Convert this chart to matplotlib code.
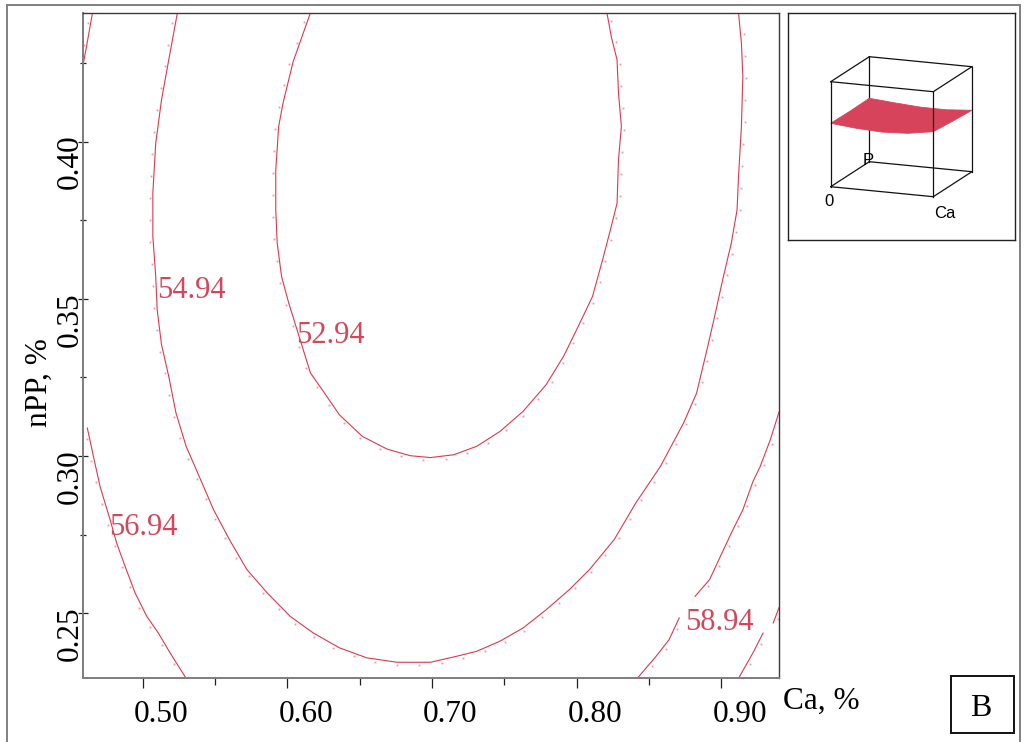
import matplotlib
matplotlib.use("Agg")
import matplotlib.pyplot as plt
import numpy as np
from matplotlib.lines import Line2D
from matplotlib.patches import Polygon, Rectangle
from matplotlib.transforms import ScaledTranslation, blended_transform_factory

# contour levels of the response surface (% units)
levels = [52.94, 54.94, 56.94, 58.94]

# traced iso-lines, Ca % vs nPP %
ca_5294 = [0.616, 0.604, 0.597, 0.594, 0.592, 0.592, 0.593, 0.596, 0.601, 0.606,
           0.611, 0.616, 0.625, 0.636, 0.652, 0.669, 0.685, 0.699, 0.715, 0.731,
           0.747, 0.763, 0.779, 0.791, 0.800, 0.811, 0.818, 0.824, 0.828, 0.829,
           0.831, 0.829, 0.828, 0.824, 0.821]
npp_5294 = [0.441, 0.4254, 0.4122, 0.4048, 0.3910, 0.3783, 0.3677, 0.3571, 0.3486, 0.3412,
            0.3338, 0.3264, 0.3205, 0.3131, 0.3062, 0.3022, 0.3001, 0.2995, 0.3004, 0.3031,
            0.3078, 0.3142, 0.3227, 0.3317, 0.3401, 0.3507, 0.3624, 0.3730, 0.3804, 0.3942,
            0.4048, 0.4154, 0.4260, 0.4334, 0.441]

ca_5494 = [0.524, 0.518, 0.513, 0.509, 0.507, 0.507, 0.509, 0.510, 0.513, 0.518,
           0.523, 0.530, 0.540, 0.549, 0.560, 0.572, 0.586, 0.602, 0.618, 0.636,
           0.655, 0.676, 0.699, 0.717, 0.731, 0.747, 0.763, 0.779, 0.795, 0.809,
           0.826, 0.841, 0.858, 0.874, 0.883, 0.891, 0.896, 0.901, 0.907, 0.911,
           0.912, 0.914, 0.915, 0.914, 0.912]
npp_5494 = [0.441, 0.426, 0.4133, 0.3995, 0.3836, 0.3698, 0.3571, 0.3465, 0.3354, 0.3253,
            0.3137, 0.3031, 0.2925, 0.2829, 0.2734, 0.2639, 0.2565, 0.2490, 0.2437, 0.2390,
            0.2358, 0.2344, 0.2344, 0.2363, 0.2379, 0.2411, 0.2453, 0.2511, 0.2575, 0.2639,
            0.2734, 0.2851, 0.2967, 0.3105, 0.3200, 0.3354, 0.3455, 0.3560, 0.3677, 0.3783,
            0.3889, 0.4048, 0.4207, 0.4313, 0.441]

ca_5694_top = [0.4653, 0.4613, 0.4581]
npp_5694_top = [0.441, 0.4307, 0.4228]
ca_5694_left = [0.4617, 0.4659, 0.4705, 0.4774, 0.4820, 0.4878, 0.4947, 0.5028,
                0.5108, 0.5189, 0.5300]
npp_5694_left = [0.3089, 0.2999, 0.2903, 0.2798, 0.2723, 0.2649, 0.2565, 0.2490,
                 0.2437, 0.2374, 0.2293]
ca_5694_right = [0.940, 0.934, 0.927, 0.922, 0.915, 0.907, 0.900, 0.892, 0.882]
npp_5694_right = [0.314, 0.3052, 0.2967, 0.2919, 0.2829, 0.2755, 0.2686, 0.2607, 0.2554]
ca_5694_low = [0.871, 0.864, 0.855, 0.842]
npp_5694_low = [0.2485, 0.2416, 0.2363, 0.2293]

ca_5894_a = [0.940, 0.936]
npp_5894_a = [0.2518, 0.2469]
ca_5894_b = [0.929, 0.922, 0.912]
npp_5894_b = [0.2437, 0.2374, 0.2293]

# where each level's value is written (left end, baseline)
label_ca = [0.606, 0.5097, 0.4769, 0.8748]
label_npp = [0.3359, 0.3502, 0.2750, 0.2448]

x_major = [0.50, 0.60, 0.70, 0.80, 0.90]
x_minor = [0.55, 0.65, 0.75, 0.85]
y_major = [0.25, 0.30, 0.35, 0.40]
y_minor = [0.275, 0.325, 0.375, 0.425]

# small 3-D preview: sheet heights over (Ca, P) in the unit cube
sheet_u = [0.0, 0.25, 0.5, 0.75, 1.0]
sheet_v = [0.0, 0.5, 1.0]
sheet_front = [0.604, 0.580, 0.568, 0.580, 0.619]
sheet_mid = [0.600, 0.575, 0.562, 0.570, 0.600]
sheet_back = [0.604, 0.584, 0.567, 0.566, 0.585]

LINE = "#d83a50"
DOT = "#ea98a5"
TEXT_RED = "#d4475b"
SERIF = "Liberation Serif"
SANS = "Liberation Sans"

W, H = 1029, 742
fig = plt.figure(figsize=(W / 100, H / 100), dpi=100)


def box(x0, y0, x1, y1):
    return [x0 / W, 1 - y1 / H, (x1 - x0) / W, (y1 - y0) / H]


def px(x, y):
    return x / W, 1 - y / H


ax = fig.add_axes(box(82.7, 12.7, 779.3, 678.3))
ax.set_xlim(0.4585, 0.9402)
ax.set_ylim(0.2293, 0.4410)


def sample_dots(ca, npp, spacing=22.0, offset=3.0, centre=(0.70, 0.38)):
    """Sparse sample points riding just outside a traced line."""
    P = ax.transData.transform(np.column_stack([ca, npp]))
    d = np.diff(P, axis=0)
    seg = np.hypot(d[:, 0], d[:, 1])
    s = np.concatenate([[0.0], np.cumsum(seg)])
    t = np.arange(spacing / 2, s[-1], spacing)
    if len(t) == 0:
        t = np.array([s[-1] / 2])
    pts = np.column_stack([np.interp(t, s, P[:, 0]), np.interp(t, s, P[:, 1])])
    idx = np.clip(np.searchsorted(s, t) - 1, 0, len(seg) - 1)
    tan = d[idx] / seg[idx][:, None]
    nrm = np.column_stack([tan[:, 1], -tan[:, 0]])
    c = ax.transData.transform([centre])[0]
    side = np.sign(((pts - c) * nrm).sum(axis=1))
    out = ax.transData.inverted().transform(pts + nrm * side[:, None] * offset)
    return out[:, 0], out[:, 1]


contours = {
    52.94: [(ca_5294, npp_5294)],
    54.94: [(ca_5494, npp_5494)],
    56.94: [(ca_5694_top, npp_5694_top), (ca_5694_left, npp_5694_left),
            (ca_5694_right, npp_5694_right), (ca_5694_low, npp_5694_low)],
    58.94: [(ca_5894_a, npp_5894_a), (ca_5894_b, npp_5894_b)],
}
for level in levels:
    for ca, npp in contours[level]:
        ax.plot(ca, npp, color=LINE, lw=0.8, solid_joinstyle="round")
        dx, dy = sample_dots(ca, npp)
        ax.plot(dx, dy, ls="none", marker="s", ms=1.3, mew=0, color=DOT)

for level, lx, ly in zip(levels, label_ca, label_npp):
    ax.text(lx, ly, f"{level:.2f}", color=TEXT_RED, fontsize=22, family=SERIF,
            ha="left", va="baseline")

# axes frame and ticks
for side in ("left", "bottom"):
    ax.spines[side].set_color("#7d7d7d")
    ax.spines[side].set_linewidth(1.4)
for side in ("top", "right"):
    ax.spines[side].set_color("#3a3a3a")
    ax.spines[side].set_linewidth(1.0)

ax.set_xticks(x_major)
ax.set_xticks(x_minor, minor=True)
ax.set_yticks(y_major)
ax.set_yticks(y_minor, minor=True)
ax.tick_params(axis="x", which="both", direction="out", labelbottom=False, width=0.9, color="#222")
ax.tick_params(axis="x", which="major", length=7.2)
ax.tick_params(axis="x", which="minor", length=4.8)
ax.tick_params(axis="y", which="both", direction="inout", labelleft=False, width=0.9, color="#222")
ax.tick_params(axis="y", which="major", length=7.2)
ax.tick_params(axis="y", which="minor", length=4.4)

# tick labels sit a little off their ticks
xlab_tr = blended_transform_factory(ax.transData, ax.transAxes) + \
    ScaledTranslation(0.185, -0.434, fig.dpi_scale_trans)
for v in x_major:
    ax.text(v, 0, f"{v:.2f}", transform=xlab_tr, fontsize=22.5, family=SERIF,
            ha="center", va="baseline", clip_on=False)

ylab_tr = blended_transform_factory(ax.transAxes, ax.transData) + \
    ScaledTranslation(-0.047, -0.205, fig.dpi_scale_trans)
for v in y_major:
    ax.text(0, v, f"{v:.2f}", transform=ylab_tr, fontsize=22.5, family=SERIF,
            rotation=90, rotation_mode="anchor", ha="center", va="baseline",
            clip_on=False)

ax.set_xlabel("Ca, %", fontsize=22.5, family=SERIF, ha="left", va="baseline")
ax.xaxis.set_label_coords(1.0053, -0.0461)
ax.set_ylabel("nPP, %", fontsize=22.5, family=SERIF, rotation=90,
              rotation_mode="anchor", ha="center", va="baseline")
ax.yaxis.set_label_coords(-0.0517, 0.4444)

# 3-D preview panel
ins = fig.add_axes(box(788.3, 12.7, 1015.0, 240.0))
ins.set_xlim(0, 226.7)
ins.set_ylim(227.3, 0)
ins.set_xticks([])
ins.set_yticks([])
for s in ins.spines.values():
    s.set_linewidth(1.0)
    s.set_color("#222")

O = np.array([42.4, 174.0])
EX = np.array([102.6, 10.0])
EY = np.array([38.6, -25.0])
EZ = np.array([0.0, -105.0])


def project(u, v, z):
    p = O + np.outer(np.atleast_1d(u), EX) + np.outer(np.atleast_1d(v), EY) \
        + np.outer(np.atleast_1d(z), EZ)
    return p[:, 0], p[:, 1]


corners = [(u, v, z) for u in (0, 1) for v in (0, 1) for z in (0, 1)]
for i, a in enumerate(corners):
    for b in corners[i + 1:]:
        if sum(abs(p - q) for p, q in zip(a, b)) != 1:
            continue
        xs, ys = project([a[0], b[0]], [a[1], b[1]], [a[2], b[2]])
        front = a[1] == 0 and b[1] == 0
        ins.plot(xs, ys, color="#111", lw=0.9, zorder=3 if front else 1)

z = np.array([sheet_front, sheet_mid, sheet_back])
u = np.array(sheet_u)
v = np.array(sheet_v)
edge_u = np.concatenate([u, np.ones(len(v) - 1), u[::-1][1:], np.zeros(len(v) - 2)])
edge_v = np.concatenate([np.zeros(len(u)), v[1:], np.ones(len(u) - 1), v[::-1][1:-1]])
edge_z = np.concatenate([z[0], z[1:, -1], z[-1, ::-1][1:], z[::-1, 0][1:-1]])
sx, sy = project(edge_u, edge_v, edge_z)
ins.add_patch(Polygon(np.column_stack([sx, sy]), closed=True, facecolor="#d7435a",
                      edgecolor="#d7435a", lw=0.6, zorder=2))

ins.text(40.7, 188.3, "0", fontsize=12, family=SANS, ha="center", va="center")
ins.text(157.0, 201.0, "Ca", fontsize=12, family=SANS, ha="center", va="center")
ins.text(79.7, 147.6, "P", fontsize=12, family=SANS, ha="center", va="center", zorder=4)

# panel letter
fig.add_artist(Rectangle(px(951, 733), 63 / W, 57 / H, transform=fig.transFigure,
                         fill=False, edgecolor="#111", lw=1.4))
fig.text(*px(981, 716), "B", fontsize=23, family=SERIF, ha="center", va="baseline")

# outer frame, open at the bottom
frame = dict(color="#808080", lw=1.4, transform=fig.transFigure)
fig.add_artist(Line2D([6.7 / W, 6.7 / W], [0, 1 - 5 / H], **frame))
fig.add_artist(Line2D([6.7 / W, 1020 / W], [1 - 5 / H, 1 - 5 / H], **frame))
fig.add_artist(Line2D([1020 / W, 1020 / W], [0, 1 - 5 / H], **frame))

fig.savefig("out.png", dpi=100)
